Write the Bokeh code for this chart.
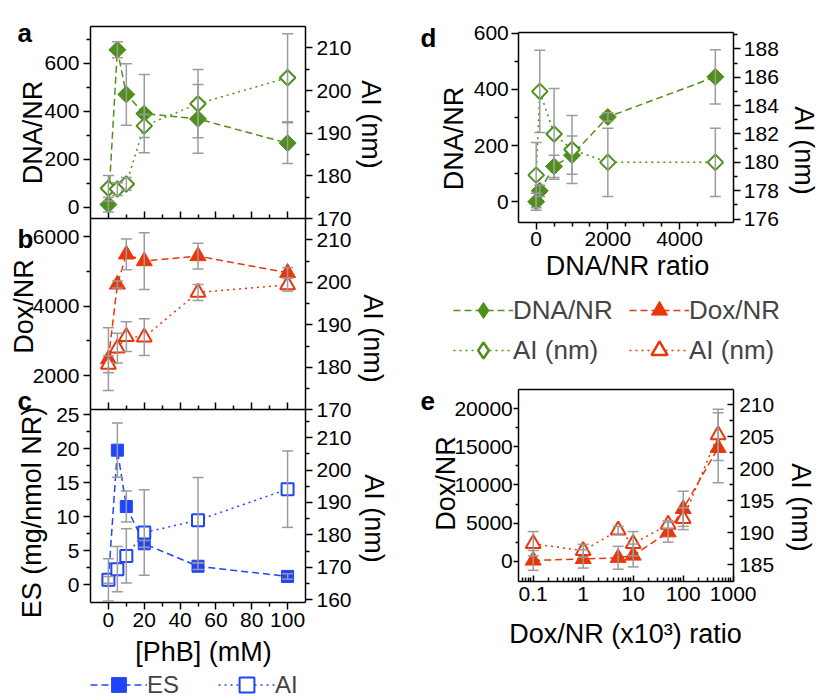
import math
from bokeh.plotting import figure
from bokeh.models import (Range1d, LinearAxis, LogAxis, FixedTicker, Whisker, TeeHead,
                          ColumnDataSource, Label, Legend, LegendItem, CustomJSTickFormatter)
from bokeh.layouts import row, column
from bokeh.embed import file_html
from bokeh.resources import INLINE

FONT = "Liberation Sans"
GREEN = "#4F8F1C"
RED = "#E9370B"
BLUE = "#1F45FC"
GRAY = "#9B9B9B"

# ---------------- data ----------------
phb_mM = [0, 5, 10, 20, 50, 100]
a_dna_nr = [11, 656, 470, 390, 368, 267]
a_dna_nr_err = [31, 33, 128, 163, 143, 85]
a_ai_nm = [177.1, 176.9, 178.1, 191.7, 196.9, 203.0]
a_ai_nm_err = [3.0, 1.5, 1.5, 2.7, 8.0, 10.3]

b_dox_nr = [2480, 4624, 5488, 5295, 5440, 4958]
b_dox_nr_err = [900, 100, 440, 816, 370, 150]
b_ai_nm = [180.7, 184.5, 187.2, 187.1, 197.6, 199.4]
b_ai_nm_err = [2.0, 3.5, 3.5, 4.3, 1.9, 1.5]

c_es = [0.7, 19.8, 11.5, 6.0, 2.7, 1.2]
c_es_err = [0.5, 4.0, 2.3, 0.5, 0.5, 0.4]
c_ai_nm = [166.1, 169.4, 173.5, 180.7, 184.5, 194.1]
c_ai_nm_err = [6.5, 7.0, 8.4, 13.2, 13.2, 11.8]

d_ratio = [0, 100, 500, 1000, 2000, 5000]
d_dna_nr = [0, 39, 126, 166, 302, 445]
d_dna_nr_err = [30, 20, 40, 68, 15, 97]
d_ai_nm = [179.1, 185.0, 182.0, 180.9, 180.0, 180.0]
d_ai_nm_err = [2.3, 2.9, 3.2, 2.4, 2.4, 2.4]

e_ratio = [0.1, 1, 5, 10, 50, 100, 500]
e_dox_nr = [100, 300, 450, 750, 3800, 6870, 14880]
e_dox_nr_err = [1300, 1200, 1500, 1500, 1300, 2300, 4600]
e_ai_nm = [188.3, 187.2, 190.4, 188.3, 191.3, 192.2, 205.3]
e_ai_nm_err = [1.9, 1.0, 0.6, 1.9, 0.6, 1.7, 4.0]

phb_ticks = [0, 20, 40, 60, 80, 100]
phb_minor = [10, 30, 50, 70, 90]
e_ticks = [0.1, 1, 10, 100, 1000]

# ---------------- helpers ----------------
def style_axis(ax, tick_out=7, minor_out=4, tick_in=0, minor_in=0, label_size="21px",
               label_standoff=4, show_labels=True):
    ax.axis_line_width = 1.5
    ax.axis_line_color = "black"
    ax.major_tick_line_width = 1.5
    ax.minor_tick_line_width = 1.5
    ax.major_tick_line_color = "black"
    ax.minor_tick_line_color = "black"
    ax.major_tick_out = tick_out
    ax.major_tick_in = tick_in
    ax.minor_tick_out = minor_out
    ax.minor_tick_in = minor_in
    ax.major_label_text_font = FONT
    ax.major_label_text_font_size = label_size
    ax.major_label_text_color = "black" if show_labels else None
    ax.major_label_standoff = label_standoff
    return ax


def add_axis(p, side, loc, bounds, ticks, minor, xname="default", yname="default",
             cls=LinearAxis, formatter=None, **kw):
    args = dict(x_range_name=xname, y_range_name=yname, fixed_location=loc, bounds=bounds,
                ticker=FixedTicker(ticks=ticks, minor_ticks=minor))
    if formatter is not None:
        args["formatter"] = formatter
    ax = cls(**args)
    style_axis(ax, **kw)
    p.add_layout(ax, side)
    return ax


def errbars(p, x, y, err, rname="default"):
    src = ColumnDataSource(dict(x=x,
                                upper=[v + e for v, e in zip(y, err)],
                                lower=[v - e for v, e in zip(y, err)]))
    w = Whisker(source=src, base="x", upper="upper", lower="lower", y_range_name=rname,
                level="overlay", line_color=GRAY, line_width=1.5,
                upper_head=TeeHead(size=11, line_color=GRAY, line_width=1.5),
                lower_head=TeeHead(size=11, line_color=GRAY, line_width=1.5))
    p.add_layout(w)


def series(p, x, y, color, marker, size, filled, dash, rname="default", angle=0.0):
    src = ColumnDataSource(dict(x=x, y=y))
    ln = p.line("x", "y", source=src, line_color=color, line_width=1.5, line_dash=dash,
                y_range_name=rname)
    sc = p.scatter("x", "y", source=src, marker=marker, size=size, angle=angle,
                   fill_color=color if filled else "white", line_color=color,
                   line_width=1 if filled else 2, y_range_name=rname)
    return ln, sc


def yrange(lo, hi, px_top, px_bottom, H):
    s = (hi - lo) / (px_bottom - px_top)
    return Range1d(lo - (H - px_bottom) * s, hi + px_top * s)


def xrange_(lo, hi, px_left, px_right, W):
    s = (hi - lo) / (px_right - px_left)
    return Range1d(lo - px_left * s, hi + (W - px_right) * s)


def text(p, s, x, y, angle=0.0, size="27px", bold=False, align="center", baseline="middle"):
    p.add_layout(Label(x=x, y=y, x_units="screen", y_units="screen", text=s, angle=angle,
                       text_font=FONT, text_font_size=size,
                       text_font_style="bold" if bold else "normal",
                       text_align=align, text_baseline=baseline, text_color="black"))


def new_fig(W, H, x_range, **kw):
    p = figure(width=W, height=H, x_range=x_range, y_range=Range1d(0, H),
               x_axis_location=None, y_axis_location=None, toolbar_location=None,
               output_backend="svg", min_border=0, **kw)
    p.grid.visible = False
    p.outline_line_color = None
    return p


DASH = "7 4"
DOT = "2 4"
DIAMOND_ANGLE = math.pi / 4

# ---------------- left column (a, b, c) ----------------
WL, HL = 400, 696
pL = new_fig(WL, HL, xrange_(-10, 110, 90, 305, WL))
A_LIM, A_RLIM = (-47, 753), (170, 215)
B_LIM, B_RLIM = (1022, 6518), (170, 215)
C_LIM, C_RLIM = (-2.6, 25.75), (159.2, 218.6)
pL.extra_y_ranges = {
    "aL": yrange(*A_LIM, 26, 218, HL), "aR": yrange(*A_RLIM, 26, 218, HL),
    "bL": yrange(*B_LIM, 218, 409.3, HL), "bR": yrange(*B_RLIM, 218, 409.3, HL),
    "cL": yrange(*C_LIM, 409.3, 601.7, HL), "cR": yrange(*C_RLIM, 409.3, 601.7, HL),
}
XB = (-10, 110)
for nm, lim, ticks, minor in (("aL", A_LIM, [0, 200, 400, 600], [100, 300, 500, 700]),
                              ("bL", B_LIM, [2000, 4000, 6000], [3000, 5000]),
                              ("cL", C_LIM, [0, 5, 10, 15, 20, 25], [2.5, 7.5, 12.5, 17.5, 22.5])):
    add_axis(pL, "left", -10, lim, ticks, minor, yname=nm)
for nm, lim, ticks, minor in (("aR", A_RLIM, [170, 180, 190, 200, 210], [175, 185, 195, 205]),
                              ("bR", B_RLIM, [170, 180, 190, 200, 210], [175, 185, 195, 205]),
                              ("cR", C_RLIM, [160, 170, 180, 190, 200, 210],
                               [165, 175, 185, 195, 205, 215])):
    add_axis(pL, "right", 110, lim, ticks, minor, yname=nm)
add_axis(pL, "above", A_LIM[1], XB, [], [], yname="aL", tick_out=0, minor_out=0, show_labels=False)
add_axis(pL, "below", A_LIM[0], XB, phb_ticks, phb_minor, yname="aL", tick_out=0, minor_out=0,
         tick_in=7, minor_in=4, show_labels=False)
add_axis(pL, "below", B_LIM[0], XB, phb_ticks, phb_minor, yname="bL", tick_out=0, minor_out=0,
         tick_in=7, minor_in=4, show_labels=False)
add_axis(pL, "below", C_LIM[0], XB, phb_ticks, phb_minor, yname="cL")

series(pL, phb_mM, a_dna_nr, GREEN, "square", 12, True, DASH, "aL", DIAMOND_ANGLE)
series(pL, phb_mM, a_ai_nm, GREEN, "square", 11, False, DOT, "aR", DIAMOND_ANGLE)
errbars(pL, phb_mM, a_dna_nr, a_dna_nr_err, "aL")
errbars(pL, phb_mM, a_ai_nm, a_ai_nm_err, "aR")
series(pL, phb_mM, b_dox_nr, RED, "triangle", 16, True, DASH, "bL")
series(pL, phb_mM, b_ai_nm, RED, "triangle", 15, False, DOT, "bR")
errbars(pL, phb_mM, b_dox_nr, b_dox_nr_err, "bL")
errbars(pL, phb_mM, b_ai_nm, b_ai_nm_err, "bR")
es_ln, es_sc = series(pL, phb_mM, c_es, BLUE, "square", 12, True, DASH, "cL")
ai_ln, ai_sc = series(pL, phb_mM, c_ai_nm, BLUE, "square", 12, False, DOT, "cR")
errbars(pL, phb_mM, c_es, c_es_err, "cL")
errbars(pL, phb_mM, c_ai_nm, c_ai_nm_err, "cR")

text(pL, "DNA/NR", 32, 564, angle=math.pi / 2)
text(pL, "Dox/NR", 23, 390, angle=math.pi / 2)
text(pL, "ES (mg/nmol NR)", 31, 184, angle=math.pi / 2)
text(pL, "AI (nm)", 370, 572, angle=-math.pi / 2)
text(pL, "AI (nm)", 372, 358, angle=-math.pi / 2)
text(pL, "AI (nm)", 373, 178, angle=-math.pi / 2)
text(pL, "[PhB] (mM)", 203, 45)
text(pL, "a", 17, 664, size="26px", bold=True, align="left", baseline="alphabetic")
text(pL, "b", 17, 458, size="26px", bold=True, align="left", baseline="alphabetic")
text(pL, "c", 17, 296, size="26px", bold=True, align="left", baseline="alphabetic")

legC = Legend(items=[LegendItem(label="ES", renderers=[es_ln, es_sc]),
                     LegendItem(label="AI", renderers=[ai_ln, ai_sc])],
              location=(90, -7), orientation="horizontal", glyph_width=57, glyph_height=37,
              label_width=61, spacing=10, padding=0, margin=0, label_standoff=0,
              border_line_color=None, background_fill_alpha=0,
              label_text_font=FONT, label_text_font_size="24px")
pL.add_layout(legC)

# ---------------- panel d ----------------
WR, HD, HE = 417, 373, 323
D_X = (-485, 5515)
D_LIM, D_RLIM = (-74, 602), (175.76, 189.13)
pD = new_fig(WR, HD, xrange_(*D_X, 118.3, 333.3, WR))
pD.extra_y_ranges = {"dL": yrange(*D_LIM, 32.3, 222, HD), "dR": yrange(*D_RLIM, 32.3, 222, HD)}
add_axis(pD, "left", D_X[0], D_LIM, [0, 200, 400, 600], [100, 300, 500], yname="dL", label_standoff=3)
add_axis(pD, "right", D_X[1], D_RLIM, [176, 178, 180, 182, 184, 186, 188],
         [177, 179, 181, 183, 185, 187, 189], yname="dR", label_standoff=3)
add_axis(pD, "below", D_LIM[0], D_X, [0, 2000, 4000],
         [500, 1000, 1500, 2500, 3000, 3500, 4500, 5000], yname="dL", label_standoff=2)
add_axis(pD, "above", D_LIM[1], D_X, [], [], yname="dL", tick_out=0, minor_out=0, show_labels=False)

series(pD, d_ratio, d_dna_nr, GREEN, "square", 12, True, DASH, "dL", DIAMOND_ANGLE)
series(pD, d_ratio, d_ai_nm, GREEN, "square", 11, False, DOT, "dR", DIAMOND_ANGLE)
errbars(pD, d_ratio, d_dna_nr, d_dna_nr_err, "dL")
errbars(pD, d_ratio, d_ai_nm, d_ai_nm_err, "dR")

# legend-only renderers (a single NaN point each, so nothing is drawn in the frame)
nan_src = ColumnDataSource(dict(x=[float("nan")], y=[float("nan")]))


def legend_entry(p, color, marker, filled, dash):
    ln = p.line("x", "y", source=nan_src, line_color=color, line_width=1.5, line_dash=dash)
    sc = p.scatter("x", "y", source=nan_src, marker=marker, size=14,
                   fill_color=color if filled else "white", line_color=color,
                   line_width=1 if filled else 2.5)
    return [ln, sc]


legD = Legend(items=[LegendItem(label="DNA/NR", renderers=legend_entry(pD, GREEN, "diamond", True, DASH)),
                     LegendItem(label="Dox/NR", renderers=legend_entry(pD, RED, "triangle", True, DASH)),
                     LegendItem(label="AI (nm)", renderers=legend_entry(pD, GREEN, "diamond", False, DOT)),
                     LegendItem(label="AI (nm)", renderers=legend_entry(pD, RED, "triangle", False, DOT))],
              location=(53, 3), orientation="horizontal", ncols=2,
              glyph_width=60, glyph_height=40, label_width=116, spacing=0,
              padding=0, margin=0, label_standoff=0,
              border_line_color=None, background_fill_alpha=0,
              label_text_font=FONT, label_text_font_size="26px")
pD.add_layout(legD)
text(pD, "DNA/NR", 53, 235, angle=math.pi / 2)
text(pD, "AI (nm)", 403, 223, angle=-math.pi / 2)
text(pD, "DNA/NR ratio", 227, 108)
text(pD, "d", 20, 336, size="26px", bold=True, align="left", baseline="alphabetic")

# ---------------- panel e ----------------
E_X = (0.0515, 1000)
E_LIM, E_RLIM = (-2625, 22533), (182.44, 212.4)
lx = xrange_(math.log10(E_X[0]), math.log10(E_X[1]), 118.3, 332.7, WR)
pE = new_fig(WR, HE, Range1d(10 ** lx.start, 10 ** lx.end), x_axis_type="log")
pE.extra_y_ranges = {"eL": yrange(*E_LIM, 16, 207.7, HE), "eR": yrange(*E_RLIM, 16, 207.7, HE)}
add_axis(pE, "left", E_X[0], E_LIM, [0, 5000, 10000, 15000, 20000],
         [2500, 7500, 12500, 17500], yname="eL", tick_out=5, minor_out=3, label_standoff=1)
add_axis(pE, "right", E_X[1], E_RLIM, [185, 190, 195, 200, 205, 210],
         [187.5, 192.5, 197.5, 202.5, 207.5], yname="eR", tick_out=0, minor_out=0,
         tick_in=6, minor_in=4, label_standoff=6)
log_minor = [m * d for d in (0.01, 0.1, 1, 10, 100) for m in range(2, 10) if E_X[0] < m * d < E_X[1]]
add_axis(pE, "below", E_LIM[0], E_X, e_ticks, log_minor, yname="eL", cls=LogAxis,
         formatter=CustomJSTickFormatter(code="return String(tick)"),
         tick_out=0, minor_out=0, tick_in=6, minor_in=4, label_standoff=6)
add_axis(pE, "above", E_LIM[1], E_X, [], [], yname="eL", tick_out=0, minor_out=0, show_labels=False)

series(pE, e_ratio, e_dox_nr, RED, "triangle", 16, True, DASH, "eL")
series(pE, e_ratio, e_ai_nm, RED, "triangle", 15, False, DOT, "eR")
errbars(pE, e_ratio, e_dox_nr, e_dox_nr_err, "eL")
errbars(pE, e_ratio, e_ai_nm, e_ai_nm_err, "eR")
text(pE, "Dox/NR", 45, 213, angle=math.pi / 2)
text(pE, "AI (nm)", 400, 189, angle=-math.pi / 2)
text(pE, "Dox/NR (x10\u00b3) ratio", 225, 63)
text(pE, "e", 20, 296, size="26px", bold=True, align="left", baseline="alphabetic")

layout = row(pL, column(pD, pE))
open("out.html", "w").write(file_html(layout, INLINE))
